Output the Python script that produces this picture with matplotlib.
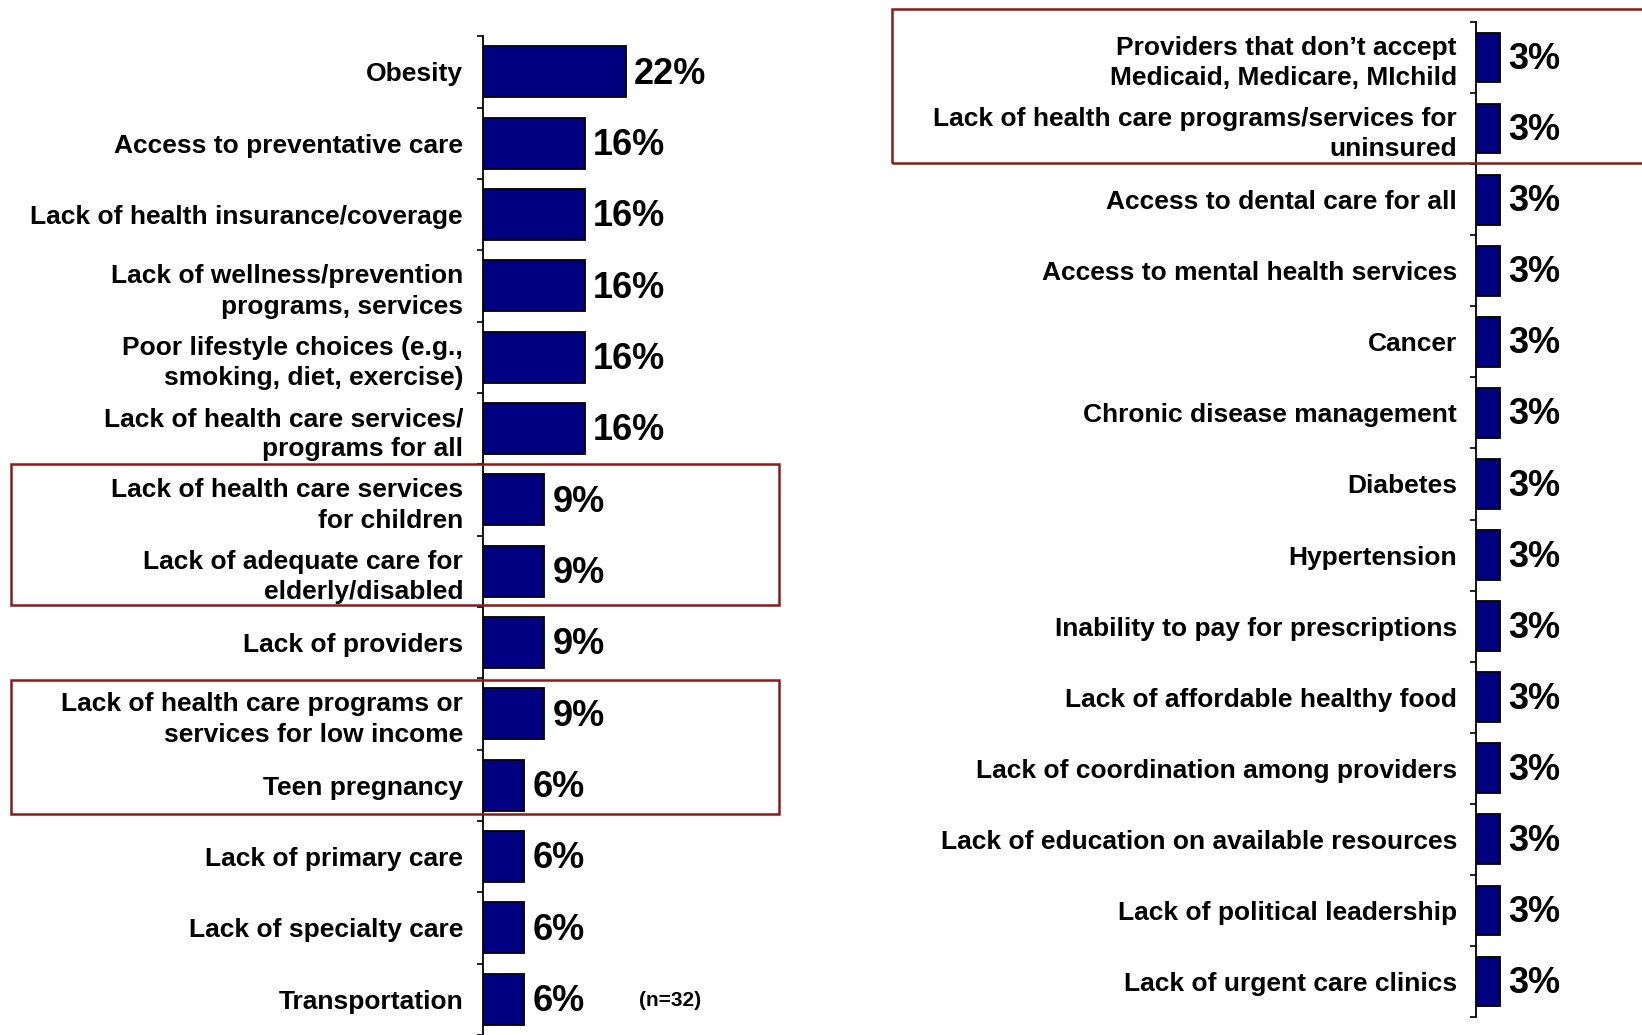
import matplotlib
matplotlib.use("Agg")
import matplotlib.pyplot as plt
from matplotlib.patches import Rectangle
import numpy as np

plt.rcParams['font.family'] = ['Liberation Sans', 'DejaVu Sans']
plt.rcParams['font.weight'] = 'bold'

left_labels = [
    "Obesity",
    "Access to preventative care",
    "Lack of health insurance/coverage",
    "Lack of wellness/prevention\nprograms, services",
    "Poor lifestyle choices (e.g.,\nsmoking, diet, exercise)",
    "Lack of health care services/\nprograms for all",
    "Lack of health care services\nfor children",
    "Lack of adequate care for\nelderly/disabled",
    "Lack of providers",
    "Lack of health care programs or\nservices for low income",
    "Teen pregnancy",
    "Lack of primary care",
    "Lack of specialty care",
    "Transportation",
]
left_values = [21.9, 15.6, 15.6, 15.6, 15.6, 15.6, 9.4, 9.4, 9.4, 9.4, 6.3, 6.3, 6.3, 6.3]

right_labels = [
    "Providers that don\u2019t accept\nMedicaid, Medicare, MIchild",
    "Lack of health care programs/services for\nuninsured",
    "Access to dental care for all",
    "Access to mental health services",
    "Cancer",
    "Chronic disease management",
    "Diabetes",
    "Hypertension",
    "Inability to pay for prescriptions",
    "Lack of affordable healthy food",
    "Lack of coordination among providers",
    "Lack of education on available resources",
    "Lack of political leadership",
    "Lack of urgent care clinics",
]
right_values = [3.1] * 14

sample_note = "(n=32)"

W, H = 1642, 1035
fig = plt.figure(figsize=(W / 100, H / 100), dpi=100)

BAR_COLOR = '#000080'
BOX_COLOR = '#8B1A1A'


def draw_panel(ax, labels, values, bar_h, xmax, pad):
    n = len(labels)
    y = np.arange(n)
    ax.barh(y, values, height=bar_h, color=BAR_COLOR, edgecolor='black', linewidth=1.3)
    for yi, v in zip(y, values):
        ax.annotate(f"{round(v)}%", xy=(v, yi), xytext=(6, -1.5), textcoords='offset points',
                    ha='left', va='center', fontsize=26, fontweight='bold')
    ax.set_ylim(n - 0.5, -0.5)
    ax.set_xlim(0, xmax)
    ax.set_yticks(y)
    ax.set_yticklabels(labels, fontsize=19, fontweight='bold', ha='right',
                       multialignment='right', linespacing=1.33)
    ax.set_yticks(np.arange(n + 1) - 0.5, minor=True)
    ax.tick_params(axis='y', which='major', length=0, pad=pad)
    ax.tick_params(axis='y', which='minor', length=4.5, width=1.2, direction='out')
    ax.set_xticks([])
    for s in ['top', 'right', 'bottom']:
        ax.spines[s].set_visible(False)
    ax.spines['left'].set_linewidth(1.3)
    ax.patch.set_alpha(0)


axL = fig.add_axes([483 / W, 0.0, 300 / W, (H - 36.3) / H])
draw_panel(axL, left_labels, left_values, 0.715, 300 / 6.52, 14.4)
axL.spines['left'].set_clip_on(False)

axR = fig.add_axes([1476 / W, 1 - 1017 / H, 166 / W, 995 / H])
draw_panel(axR, right_labels, right_values, 0.70, 166 / 7.75, 13.7)

fig.text(639 / W, 1 - 1000 / H, sample_note, ha='left', va='center', fontsize=15, fontweight='bold')

# highlight boxes (pixel coords: x0, y0_top, x1, y1_bottom)
boxes = [(10.5, 464, 779, 605), (10.5, 680, 779, 814), (892, 9, 1660, 163)]
for x0, y0, x1, y1 in boxes:
    fig.patches.append(Rectangle((x0 / W, 1 - y1 / H), (x1 - x0) / W, (y1 - y0) / H,
                                 transform=fig.transFigure, fill=False,
                                 edgecolor=BOX_COLOR, linewidth=1.8, zorder=10))

fig.savefig("out.png", dpi=100)
